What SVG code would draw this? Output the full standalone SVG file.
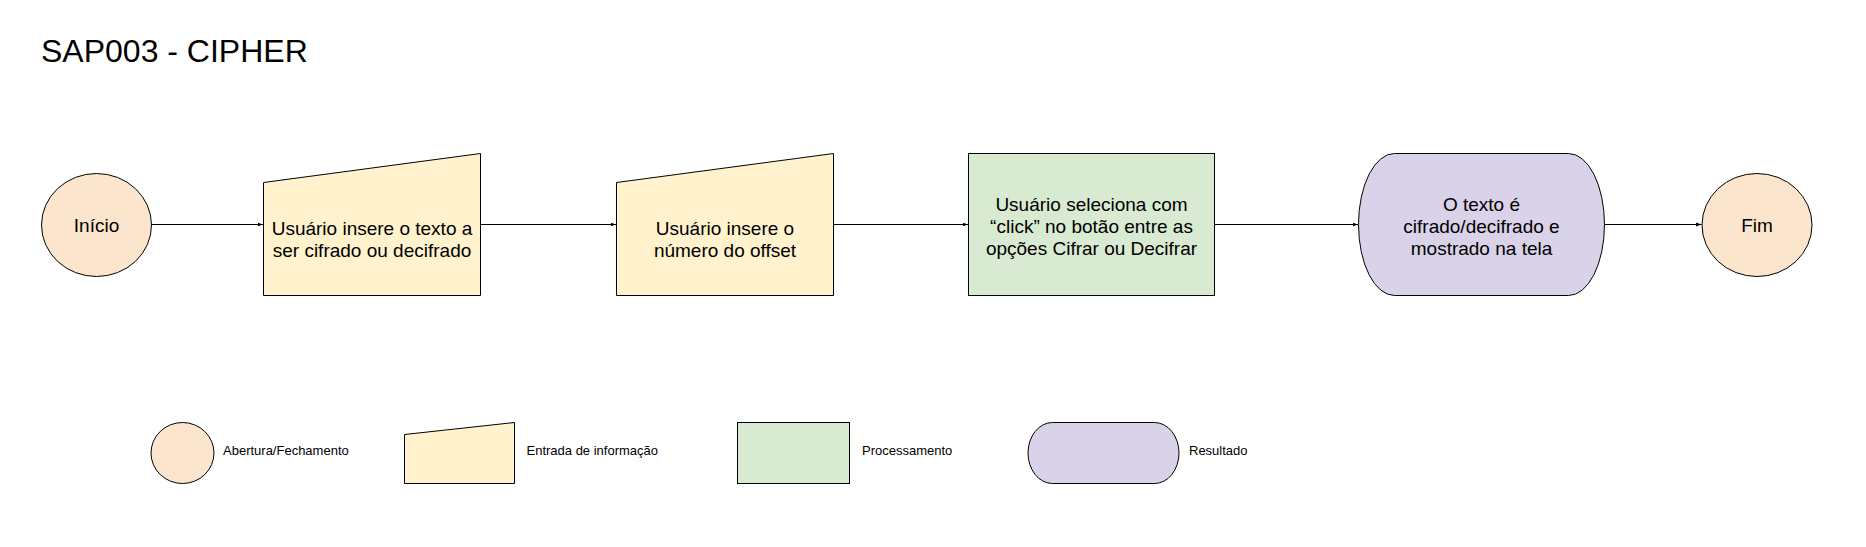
<svg xmlns="http://www.w3.org/2000/svg" width="1866" height="547" viewBox="0 0 1866 547">
<style>
.bg{fill:#ffffff}
.sh{stroke:#000;stroke-width:1}
.peach{fill:#fce5cd}
.yellow{fill:#fff2cc}
.green{fill:#d9ead3}
.purple{fill:#d9d2e9}
text{font-family:"Liberation Sans",Arial,sans-serif;fill:#000}
.t{font-size:19px;text-anchor:middle}
.lg{font-size:13px}
.title{font-size:32px}
.conn{stroke:#000;stroke-width:1;fill:none}
</style>
<defs>
<marker id="arr" markerUnits="userSpaceOnUse" markerWidth="7" markerHeight="6" refX="5.5" refY="3" orient="auto">
<path d="M0,1 L5.5,3 L0,5 Z" fill="#000"/>
</marker>
</defs>
<rect class="bg" x="0" y="0" width="1866" height="547"/>
<text class="title" x="41" y="62">SAP003 - CIPHER</text>

<g id="connectors">
<line class="conn" x1="152" y1="224.5" x2="263" y2="224.5" marker-end="url(#arr)"/>
<line class="conn" x1="480.5" y1="224.5" x2="616" y2="224.5" marker-end="url(#arr)"/>
<line class="conn" x1="833.5" y1="224.5" x2="968" y2="224.5" marker-end="url(#arr)"/>
<line class="conn" x1="1214.5" y1="224.5" x2="1358" y2="224.5" marker-end="url(#arr)"/>
<line class="conn" x1="1604.5" y1="224.5" x2="1701.5" y2="224.5" marker-end="url(#arr)"/>
</g>

<g id="inicio">
<ellipse class="sh peach" cx="96.5" cy="225" rx="55" ry="51.5"/>
<text class="t" x="96.5" y="231.5">Início</text>
</g>

<g id="entrada-texto">
<path class="sh yellow" d="M263.5,182.5 L480.5,153.5 L480.5,295.5 L263.5,295.5 Z"/>
<text class="t" x="372" y="235">Usuário insere o texto a</text>
<text class="t" x="372" y="257">ser cifrado ou decifrado</text>
</g>

<g id="entrada-offset">
<path class="sh yellow" d="M616.5,182.5 L833.5,153.5 L833.5,295.5 L616.5,295.5 Z"/>
<text class="t" x="725" y="235">Usuário insere o</text>
<text class="t" x="725" y="257">número do offset</text>
</g>

<g id="processamento">
<rect class="sh green" x="968.5" y="153.5" width="246" height="142"/>
<text class="t" x="1091.5" y="210.5">Usuário seleciona com</text>
<text class="t" x="1091.5" y="232.5">“click” no botão entre as</text>
<text class="t" x="1091.5" y="254.5">opções Cifrar ou Decifrar</text>
</g>

<g id="resultado">
<path class="sh purple" d="M1394.5,153.5 H1568.5 A36,71 0 0 1 1568.5,295.5 H1394.5 A36,71 0 0 1 1394.5,153.5 Z"/>
<text class="t" x="1481.5" y="210.5">O texto é</text>
<text class="t" x="1481.5" y="232.5">cifrado/decifrado e</text>
<text class="t" x="1481.5" y="254.5">mostrado na tela</text>
</g>

<g id="fim">
<ellipse class="sh peach" cx="1757" cy="225" rx="55" ry="51.5"/>
<text class="t" x="1757" y="231.5">Fim</text>
</g>

<g id="legenda-abertura">
<ellipse class="sh peach" cx="182.5" cy="453" rx="31.5" ry="30.5"/>
<text class="lg" x="223" y="454.5">Abertura/Fechamento</text>
</g>

<g id="legenda-entrada">
<path class="sh yellow" d="M404.5,434.5 L514.5,422.5 L514.5,483.5 L404.5,483.5 Z"/>
<text class="lg" x="526.5" y="454.5">Entrada de informação</text>
</g>

<g id="legenda-processamento">
<rect class="sh green" x="737.5" y="422.5" width="112" height="61"/>
<text class="lg" x="862" y="454.5">Processamento</text>
</g>

<g id="legenda-resultado">
<path class="sh purple" d="M1052.5,422.5 H1154.5 A24.5,30.5 0 0 1 1154.5,483.5 H1052.5 A24.5,30.5 0 0 1 1052.5,422.5 Z"/>
<text class="lg" x="1189" y="454.5">Resultado</text>
</g>
</svg>
